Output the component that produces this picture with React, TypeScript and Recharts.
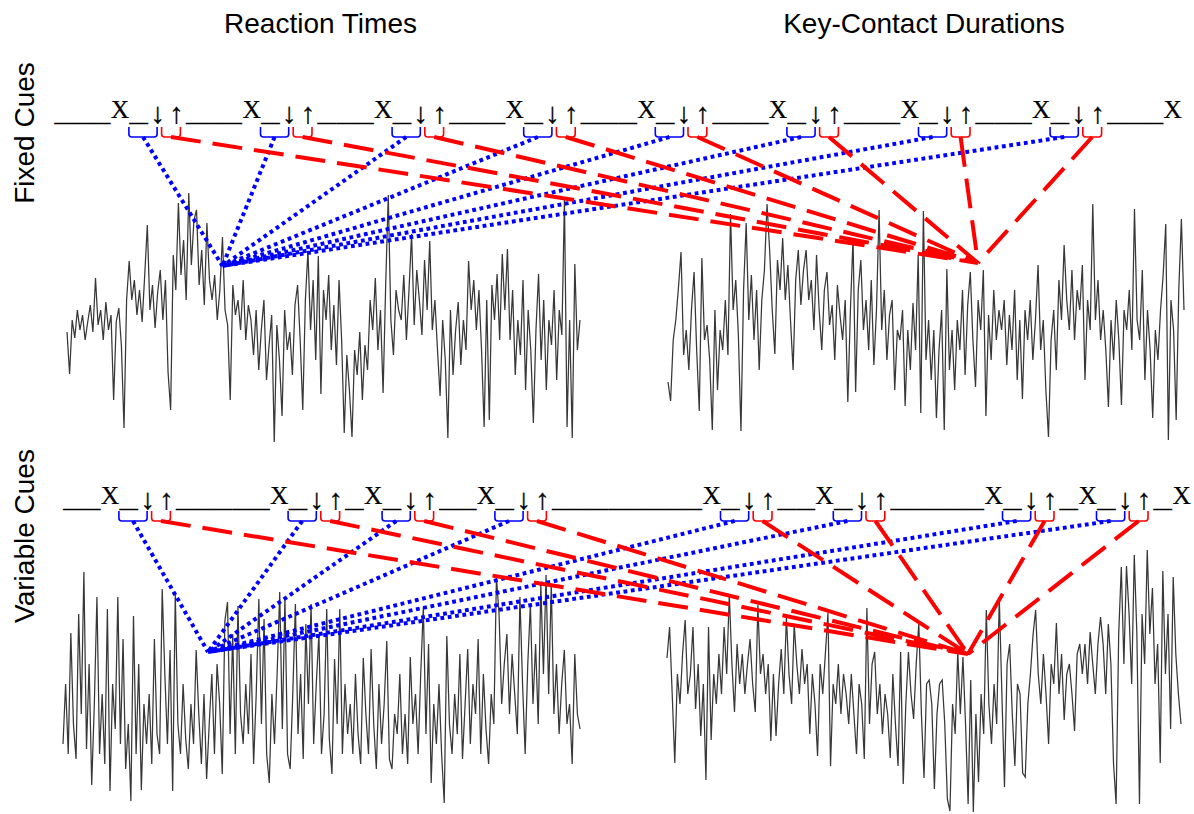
import React from 'react';
import { ComposedChart, Line, Scatter, XAxis, YAxis } from 'recharts';

// cue sequences as printed above each row (one char per slot)
const fixedCueText = '___X_↓↑___X_↓↑___X_↓↑___X_↓↑___X_↓↑___X_↓↑___X_↓↑___X_↓↑___X';
const variableCueText = '__X_↓↑_____X_↓↑_X_↓↑__X_↓↑________X_↓↑__X_↓↑_____X_↓↑_X_↓↑_X';

const columnTitles = ['Reaction Times', 'Key-Contact Durations'];
const rowTitles = ['Fixed Cues', 'Variable Cues'];

// series heights (arbitrary units)
const fixedReactionTimes = [
  118, 76, 130, 112, 140, 120, 135, 110, 128, 145, 118,
  172, 125, 140, 110, 148, 120, 135, 50, 128, 142, 104, 22, 150,
  189, 150, 170, 135, 160, 128, 175, 225, 140, 165, 122, 158, 180, 130, 170, 78, 40,
  195, 160, 247, 175, 210, 150, 257, 185, 230, 240, 165, 200, 145, 227, 170,
  150, 175, 130, 160, 213, 140, 125, 50, 165, 135, 150, 120, 170, 110, 145,
  130, 95, 140, 80, 120, 150, 70, 105, 135, 8, 125, 90, 34, 140, 100, 118, 75, 145,
  165, 110, 40, 150, 199, 120, 170, 90, 194, 56, 160, 130, 175, 100, 145, 85, 170,
  110, 17, 95, 60, 13, 100, 75, 118, 50, 105, 80,
  150, 120, 172, 100, 140, 57, 165, 255, 130, 95, 160, 140,
  130, 175, 110, 160, 216, 125, 180, 150, 115, 190, 140, 209, 120,
  150, 100, 54, 130, 90, 12, 140, 75, 120, 148, 85, 130, 100,
  189, 140, 170, 120, 160, 100, 23, 150, 30, 165, 130, 176, 110,
  196, 140, 201, 110, 160, 75, 130, 95, 170, 60, 140, 100, 27,
  120, 176, 90, 150, 60, 130, 105, 160, 70, 140, 115, 250, 23, 130, 12, 186, 100, 130,
];

const fixedKeyContact = [
  68, 49, 110, 130, 162,
  198, 95, 120, 80, 140, 178, 100, 39, 192, 110,
  125, 90, 20, 140, 60, 120, 100, 150, 95,
  236, 140, 170, 115, 19, 160, 227, 130, 175, 110, 160, 80, 150,
  180, 246, 200, 140, 96, 190, 160, 212, 150, 185, 130, 80, 170, 200, 145, 180, 200,
  150, 170, 120, 195, 140, 100, 160, 178, 125, 145, 90, 165, 135, 110, 150, 48,
  140, 212, 58, 160, 190, 120, 150, 100, 170, 85, 140, 240, 120, 160, 90, 135, 150, 60, 120,
  110, 140, 44, 120, 80, 147, 100, 195, 37, 239, 90, 130, 70,
  120, 32, 100, 140, 20, 181, 80, 120, 60,
  130, 100, 160, 75, 145, 178, 110, 63, 150, 120, 180, 34, 135, 90, 160, 110, 140,
  120, 150, 85, 135, 100, 160, 70, 130, 51, 140, 110, 150, 90, 130, 185,
  100, 130, 60, 13, 110, 140, 80,
  170, 130, 205, 150, 120, 180, 110, 160, 140, 185, 70, 150, 120, 246, 130, 170, 110,
  140, 100, 43, 130, 90, 150, 110, 45, 140, 120, 160, 100, 241, 130,
  110, 180, 70, 140, 100, 32, 120, 90,
  140, 175, 226, 10, 150, 120, 30, 160, 231, 140,
];

const variableReactionTimes = [
  70, 130, 60, 181, 90, 55, 200, 100, 242, 65, 150, 29,
  110, 217, 60, 120, 50, 205, 23, 130, 85, 217, 70, 175, 45, 90, 13,
  198, 60, 150, 24, 110, 70, 120, 50, 175, 80, 60, 225, 140, 70,
  164, 23, 220, 90, 60, 130, 75, 45, 110, 70, 164, 100, 50, 120, 35,
  90, 140, 60, 150, 110, 40, 193, 212, 80, 180, 60, 208, 100, 70, 130,
  80, 160, 50, 120, 215, 90, 195, 60, 31, 120, 70, 140, 222, 85, 217, 60, 45, 120,
  210, 80, 140, 55, 190, 110, 210, 70, 130, 180, 60, 100, 205, 75, 40, 155, 90, 205, 60, 130, 80,
  110, 60, 140, 80, 50, 156, 100, 60, 165, 90, 45, 130, 70, 110, 173, 55, 45, 100,
  80, 140, 60, 100, 50, 157, 90, 120, 60, 140, 207, 80, 170, 31, 110, 70, 130, 60, 11, 178,
  90, 60, 120, 80, 160, 55, 110, 165, 70, 130, 100, 175, 60, 140, 85, 50, 120, 90, 237,
  200, 110, 150, 180, 100, 160, 120, 80, 217, 130, 60, 150, 210, 110, 170, 90, 230, 140, 239, 120,
  230, 100, 150, 80, 130, 164, 90, 110, 50, 160, 100, 85,
];

const variableKeyContact = [
  156, 187, 120, 51, 140,
  110, 160, 194, 120, 140, 187, 105, 150, 78,
  130, 34, 187, 74, 140, 110, 160, 120, 187, 140, 220,
  150, 102, 170, 130, 160, 120, 150, 175, 130, 102, 209, 140,
  160, 120, 150, 73, 140, 78, 130, 165, 120, 197, 140, 110, 190, 150, 120, 165,
  130, 150, 80, 140, 110, 58, 150, 120, 160, 201, 48, 130, 110, 150, 100, 140,
  120, 90, 140, 100, 60, 130, 110, 55, 206, 90, 150, 162, 100, 130, 80, 120, 100, 56, 140, 90, 48,
  162, 30, 110, 162, 120, 95, 150, 191, 100, 36, 130, 134, 110,
  25, 100, 130, 134, 90, 15, 3, 110, 80, 162, 100, 157, 90,
  10, 134, 2, 100, 32, 120, 80, 204, 110, 70, 130, 90, 216,
  120, 27, 150, 170, 100, 48, 130, 120, 41, 37, 110, 140, 179,
  204, 140, 110, 160, 120, 70, 150, 130, 191, 120, 160, 94, 140,
  150, 120, 83, 160, 170, 140, 170, 130, 182, 150, 120, 170, 197,
  170, 120, 190, 150, 51, 10, 180, 247, 150, 248, 200, 130, 259, 180,
  10, 200, 150, 264, 180, 226, 130, 170,
  51, 243, 140, 200, 85, 237, 160, 120, 90,
];

const WIDTH = 1194;
const CHAR_W = 18.8;
const BRACKET_H = 10;
const BLUE = '#0000ff';
const RED = '#ff0000';
const SERIES = '#383838';
const SANS = "'Liberation Sans', Arial, Helvetica, sans-serif";
const MONO = "'Liberation Mono', 'Courier New', monospace";
const SERIF = "'Liberation Serif', 'DejaVu Serif', serif";

const rows = [
  {
    title: rowTitles[0], titleY: 133, top: 0, height: 450,
    text: fixedCueText, textStart: 54.2, baseline: 333, bracketTop: 323,
    rt: fixedReactionTimes, rtSpan: [67, 580], kcd: fixedKeyContact, kcdSpan: [668, 1184],
    rtTarget: { x: 222.5, v: 184 }, kcdTarget: { x: 978, v: 187 },
  },
  {
    title: rowTitles[1], titleY: 536, top: 450, height: 364,
    text: variableCueText, textStart: 63, baseline: 311, bracketTop: 303,
    rt: variableReactionTimes, rtSpan: [63, 580], kcd: variableKeyContact, kcdSpan: [667, 1181],
    rtTarget: { x: 208, v: 162 }, kcdTarget: { x: 968, v: 160 },
  },
];

const toSeries = (values: number[], span: number[]) =>
  values.map((v, i) => ({ x: span[0] + (i * (span[1] - span[0])) / (values.length - 1), v }));

const glyphs = (text: string, start: number, baseline: number) =>
  Array.from(text).map((ch, i) => ({ x: start + (i + 0.5) * CHAR_W, v: baseline, ch }));

// blue bracket under "_↓", red bracket under "↑" for every cue
const cueBrackets = (text: string, start: number, top: number) => {
  const mid = (k: number) => start + (k + 0.5) * CHAR_W;
  const out: { x: number; v: number; w: number; color: string }[] = [];
  Array.from(text).forEach((ch, i) => {
    if (ch !== '↓') return;
    const bl = start + (i - 1) * CHAR_W - 0.5;
    const br = mid(i) - 0.5;
    out.push({ x: (bl + br) / 2, v: top, w: br - bl, color: BLUE });
    const rl = mid(i) + 4;
    const rr = mid(i + 1) + 4;
    out.push({ x: (rl + rr) / 2, v: top, w: rr - rl, color: RED });
  });
  return out;
};

const connectors = (brackets: { x: number; v: number }[], target: { x: number; v: number }) =>
  brackets.flatMap(b => [
    { x: b.x, v: b.v - BRACKET_H },
    { x: target.x, v: target.v },
    { x: target.x, v: null },
  ]);

const GlyphShape = (props: any) => {
  const { cx, cy, payload } = props;
  const ch = payload.ch;
  if (ch === '_') {
    return (
      <text x={cx} y={cy + 4} textAnchor="middle" fontFamily={MONO} fontSize={31.5} fill="#000">_</text>
    );
  }
  if (ch === 'X') {
    return (
      <text x={cx} y={cy + 0.5} textAnchor="middle" fontFamily={SERIF} fontSize={25.5} fill="#000"
        stroke="#000" strokeWidth={0.2}>X</text>
    );
  }
  return (
    <text x={cx} y={cy + 6} textAnchor="middle" fontFamily={MONO} fontSize={29} fill="#000"
      stroke="#000" strokeWidth={0.3}>{ch}</text>
  );
};

const BracketShape = (props: any) => {
  const { cx, cy, payload } = props;
  const l = cx - payload.w / 2;
  const r = cx + payload.w / 2;
  const b = cy + BRACKET_H;
  const rad = 3;
  const d = `M${l},${cy} L${l},${b - rad} Q${l},${b} ${l + rad},${b} L${r - rad},${b} Q${r},${b} ${r},${b - rad} L${r},${cy}`;
  return <path d={d} fill="none" stroke={payload.color} strokeWidth={1.6} />;
};

const CueRow = ({ row }: { row: (typeof rows)[number] }) => {
  const brackets = cueBrackets(row.text, row.textStart, row.bracketTop);
  const blue = connectors(brackets.filter(b => b.color === BLUE), row.rtTarget);
  const red = connectors(brackets.filter(b => b.color === RED), row.kcdTarget);

  return (
    <div style={{ position: 'absolute', left: 0, top: row.top }}>
      <ComposedChart width={WIDTH} height={row.height} margin={{ top: 0, right: 0, bottom: 0, left: 0 }}>
        <XAxis type="number" dataKey="x" domain={[0, WIDTH]} hide allowDataOverflow />
        <YAxis type="number" dataKey="v" domain={[0, row.height]} hide allowDataOverflow />
        <Line data={toSeries(row.rt, row.rtSpan)} dataKey="v" type="linear" stroke={SERIES} strokeWidth={1.25}
          dot={false} activeDot={false} isAnimationActive={false} />
        <Line data={toSeries(row.kcd, row.kcdSpan)} dataKey="v" type="linear" stroke={SERIES} strokeWidth={1.25}
          dot={false} activeDot={false} isAnimationActive={false} />
        <Line data={blue} dataKey="v" type="linear" stroke={BLUE} strokeWidth={4} strokeDasharray="3.8 3.6"
          dot={false} activeDot={false} connectNulls={false} isAnimationActive={false} />
        <Line data={red} dataKey="v" type="linear" stroke={RED} strokeWidth={4} strokeDasharray="30 12"
          dot={false} activeDot={false} connectNulls={false} isAnimationActive={false} />
        <Scatter data={brackets} shape={BracketShape} isAnimationActive={false} />
        <Scatter data={glyphs(row.text, row.textStart, row.baseline)} shape={GlyphShape} isAnimationActive={false} />
      </ComposedChart>
    </div>
  );
};

export default function App() {
  return (
    <div style={{ position: 'absolute', left: 0, top: 0, width: WIDTH, height: 814, background: '#fff', overflow: 'hidden' }}>
      {rows.map(row => <CueRow key={row.title} row={row} />)}

      {columnTitles.map((t, i) => (
        <div key={t} style={{
          position: 'absolute', top: 9.6, left: (i === 0 ? 320.5 : 924) - 200, width: 400,
          textAlign: 'center', fontFamily: SANS, fontSize: 28, lineHeight: '28px', color: '#000',
        }}>{t}</div>
      ))}

      {rows.map(row => (
        <div key={row.title + '-label'} style={{
          position: 'absolute', left: 25.3 - 150, top: row.titleY - 14, width: 300, height: 28,
          textAlign: 'center', fontFamily: SANS, fontSize: 28, lineHeight: '28px', color: '#000',
          transform: 'rotate(-90deg)', whiteSpace: 'nowrap',
        }}>{row.title}</div>
      ))}
    </div>
  );
}
